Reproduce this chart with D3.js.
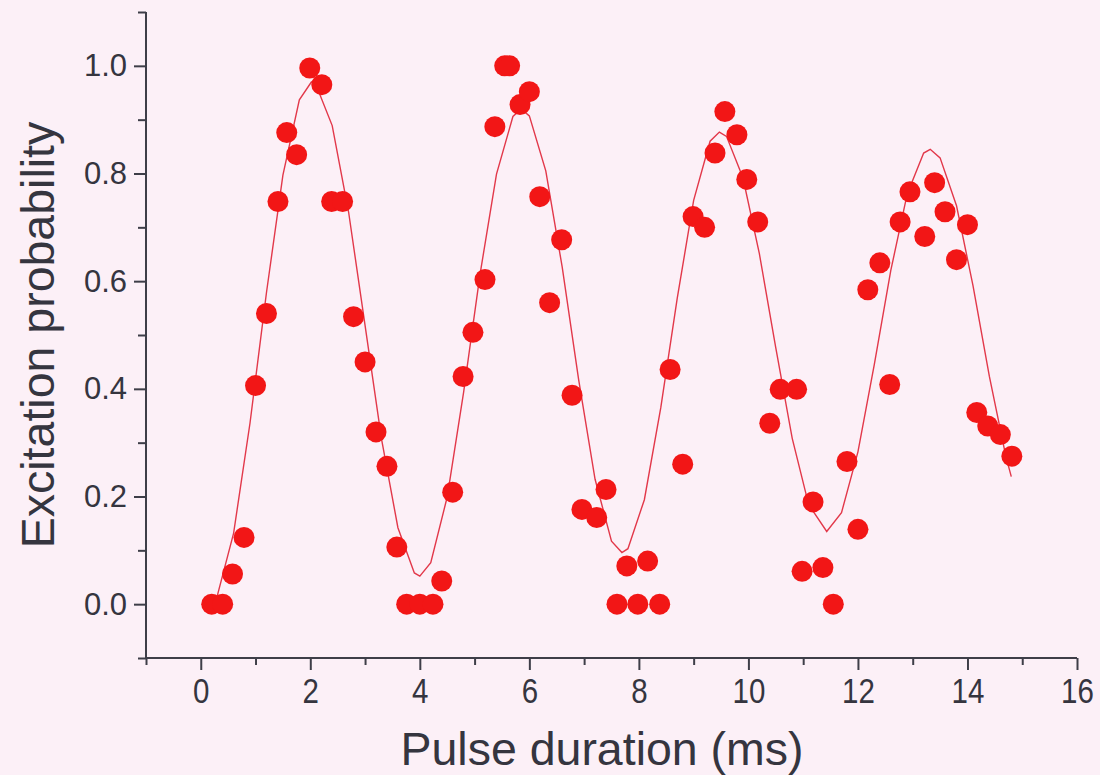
<!DOCTYPE html>
<html>
<head>
<meta charset="utf-8">
<script src="https://cdn.jsdelivr.net/npm/d3@7"></script>
<style>
  html, body { margin: 0; padding: 0; background: #fcf0f7; }
  svg { display: block; }
  text { font-family: "Liberation Sans", Arial, sans-serif; fill: #35353f; }
</style>
</head>
<body>
<svg id="chart" width="1100" height="775"></svg>
<script>
// Measured Rabi flopping: excitation probability vs. pulse duration
const pulseMs = [0.2, 0.4, 0.58, 0.79, 1.0, 1.2, 1.41, 1.57, 1.75, 1.99,
  2.21, 2.39, 2.59, 2.79, 3.0, 3.2, 3.4, 3.58, 3.76, 4.0,
  4.24, 4.4, 4.6, 4.79, 4.97, 5.19, 5.37, 5.55, 5.64, 5.83,
  6.0, 6.19, 6.37, 6.59, 6.78, 6.96, 7.23, 7.4, 7.6, 7.78,
  7.98, 8.16, 8.38, 8.57, 8.8, 8.99, 9.2, 9.39, 9.57, 9.79,
  9.97, 10.17, 10.39, 10.58, 10.88, 10.98, 11.18, 11.36, 11.55, 11.8,
  12.0, 12.18, 12.4, 12.58, 12.77, 12.95, 13.22, 13.4, 13.59, 13.8,
  14.0, 14.17, 14.37, 14.6, 14.81];
const excitation = [0, 0, 0.056, 0.124, 0.406, 0.54, 0.748, 0.876, 0.835, 0.996,
  0.965, 0.748, 0.748, 0.534, 0.45, 0.32, 0.256, 0.106, 0, 0,
  0, 0.043, 0.208, 0.423, 0.505, 0.603, 0.887, 1.0, 1.0, 0.928,
  0.952, 0.757, 0.56, 0.677, 0.388, 0.176, 0.161, 0.213, 0, 0.071,
  0, 0.08, 0, 0.436, 0.26, 0.72, 0.70, 0.838, 0.915, 0.872,
  0.789, 0.71, 0.336, 0.399, 0.399, 0.061, 0.19, 0.068, 0, 0.265,
  0.139, 0.584, 0.634, 0.408, 0.71, 0.766, 0.683, 0.783, 0.729, 0.64,
  0.705, 0.356, 0.331, 0.315, 0.275];

// Damped-oscillation fit curve, sampled along the pulse axis
const fitMs = [0.3, 0.6, 0.9, 1.2, 1.5, 1.8, 2.02, 2.1, 2.4, 2.7, 3.0, 3.3, 3.6, 3.9, 4.0,
  4.2, 4.5, 4.8, 5.1, 5.4, 5.7, 5.85, 6.0, 6.3, 6.6, 6.9, 7.2, 7.5, 7.69,
  7.8, 8.1, 8.4, 8.7, 9.0, 9.3, 9.47, 9.6, 9.9, 10.2, 10.5, 10.8, 11.1, 11.43,
  11.7, 12.0, 12.3, 12.6, 12.9, 13.2, 13.32, 13.5, 13.8, 14.1, 14.4, 14.7, 14.8];
const fitProb = [0.015, 0.132, 0.337, 0.579, 0.797, 0.937, 0.97, 0.966, 0.889, 0.728, 0.518, 0.307, 0.142, 0.058, 0.052,
  0.077, 0.199, 0.394, 0.613, 0.799, 0.906, 0.92, 0.907, 0.805, 0.626, 0.417, 0.232, 0.117, 0.096,
  0.103, 0.194, 0.365, 0.568, 0.750, 0.860, 0.877, 0.869, 0.792, 0.651, 0.476, 0.308, 0.185, 0.135,
  0.170, 0.283, 0.446, 0.620, 0.762, 0.838, 0.845, 0.829, 0.740, 0.592, 0.423, 0.275, 0.237];

const xMajorTicks = [0, 2, 4, 6, 8, 10, 12, 14, 16];
const xMinorTicks = [-1, 1, 3, 5, 7, 9, 11, 13, 15];
const yMajorTicks = [0.0, 0.2, 0.4, 0.6, 0.8, 1.0];
const yMinorTicks = [-0.1, 0.1, 0.3, 0.5, 0.7, 0.9, 1.1];

const xTitle = "Pulse duration (ms)";
const yTitle = "Excitation probability";

const svg = d3.select("#chart");
const plot = { left: 146, right: 1077, top: 12, bottom: 658 };

const x = d3.scaleLinear().domain([-1, 16]).range([plot.left, plot.right]);
const y = d3.scaleLinear().domain([-0.1, 1.1]).range([plot.bottom, plot.top]);

const axisColor = "#3e3e48";

// x axis
const gx = svg.append("g").attr("transform", `translate(0,${plot.bottom})`);
gx.call(d3.axisBottom(x).tickValues(xMajorTicks).tickSize(12).tickPadding(7).tickFormat(d3.format("d")));
gx.append("g").call(d3.axisBottom(x).tickValues(xMinorTicks).tickSize(7).tickFormat(""))
  .select(".domain").remove();
gx.selectAll(".domain").attr("d", `M${plot.left},0H${plot.right}`);

// y axis
const gy = svg.append("g").attr("transform", `translate(${plot.left},0)`);
gy.call(d3.axisLeft(y).tickValues(yMajorTicks).tickSize(12).tickPadding(7).tickFormat(d3.format(".1f")));
gy.append("g").call(d3.axisLeft(y).tickValues(yMinorTicks).tickSize(8).tickFormat(""))
  .select(".domain").remove();
gy.selectAll(".domain").attr("d", `M0,${plot.bottom}V${plot.top}`);

svg.selectAll(".domain, .tick line")
  .attr("stroke", axisColor).attr("stroke-width", 2);
gx.selectAll(".tick text")
  .attr("font-size", 36).attr("fill", "#3a3a46")
  .attr("transform", "scale(0.82,1)");
gy.selectAll(".tick text")
  .attr("font-size", 31).attr("fill", "#3a3a46");

// fit curve
const line = d3.line().x((d, i) => x(fitMs[i])).y(d => y(d));
svg.append("path")
  .datum(fitProb)
  .attr("d", line)
  .attr("fill", "none")
  .attr("stroke", "#e2384a")
  .attr("stroke-width", 1.4);

// measured points
svg.append("g").selectAll("circle")
  .data(excitation)
  .join("circle")
  .attr("cx", (d, i) => x(pulseMs[i]))
  .attr("cy", d => y(d))
  .attr("r", 10.5)
  .attr("fill", "#f21616");

// axis titles
svg.append("text")
  .attr("x", 602)
  .attr("y", 765)
  .attr("text-anchor", "middle")
  .attr("font-size", 46.5)
  .attr("fill", "#35353f")
  .text(xTitle);

svg.append("text")
  .attr("transform", `translate(54,${(plot.top + plot.bottom) / 2}) rotate(-90)`)
  .attr("text-anchor", "middle")
  .attr("font-size", 46.5)
  .attr("fill", "#35353f")
  .text(yTitle);
</script>
</body>
</html>
